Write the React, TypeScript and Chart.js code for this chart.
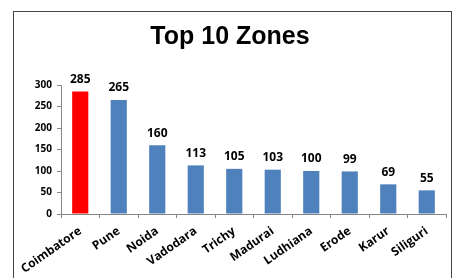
import React, { useEffect, useRef } from "react";
import { Chart, registerables } from "chart.js";

Chart.register(...registerables);

const categories = ["Coimbatore", "Pune", "Noida", "Vadodara", "Trichy", "Madurai", "Ludhiana", "Erode", "Karur", "Siliguri"];
const values = [285, 265, 160, 113, 105, 103, 100, 99, 69, 55];
const barColors = ["#FF0000", "#4F81BD", "#4F81BD", "#4F81BD", "#4F81BD", "#4F81BD", "#4F81BD", "#4F81BD", "#4F81BD", "#4F81BD"];
const yTicks = [0, 50, 100, 150, 200, 250, 300];

const labelFont = "'Open Sans', 'DejaVu Sans', sans-serif";

const valueLabels = {
  id: "valueLabels",
  afterDatasetsDraw(chart: any) {
    const ctx = chart.ctx;
    const meta = chart.getDatasetMeta(0);
    ctx.save();
    ctx.font = `bold 12px ${labelFont}`;
    ctx.fillStyle = "#000";
    ctx.textAlign = "center";
    ctx.textBaseline = "bottom";
    meta.data.forEach((el: any, i: number) => {
      ctx.fillText(String(values[i]), el.x, el.y - 6);
    });
    ctx.restore();
  },
};

export default function App() {
  const ref = useRef<HTMLCanvasElement>(null);
  useEffect(() => {
    if (!ref.current) return;
    const chart = new Chart(ref.current, {
      type: "bar",
      data: {
        labels: categories,
        datasets: [
          {
            data: values,
            backgroundColor: barColors,
            barPercentage: 0.42,
            categoryPercentage: 1,
          },
        ],
      },
      options: {
        animation: false,
        responsive: false,
        maintainAspectRatio: false,
        layout: { padding: { left: 0, right: 5, top: 0, bottom: 0 } },
        plugins: {
          legend: { display: false },
          tooltip: { enabled: false },
          title: {
            display: true,
            text: "Top 10 Zones",
            color: "#000",
            font: { family: "'Liberation Sans', Arial, sans-serif", size: 25, weight: "bold", lineHeight: 1.2 },
            padding: { top: 10, bottom: 33 },
          },
        },
        scales: {
          x: {
            grid: { drawOnChartArea: false, drawTicks: true, tickLength: 4, color: "#868686", offset: true },
            border: { color: "#868686" },
            ticks: {
              color: "#000",
              font: { family: labelFont, size: 12, weight: "bold" },
              minRotation: 35,
              maxRotation: 35,
              padding: 6,
              autoSkip: false,
            },
            afterFit: (s: any) => {
              s.height = 64;
              s.paddingLeft = 0;
              s.paddingRight = 0;
            },
          },
          y: {
            min: 0,
            max: 300,
            afterBuildTicks: (s: any) => {
              s.ticks = yTicks.map((v) => ({ value: v }));
            },
            grid: { drawOnChartArea: false, drawTicks: true, tickLength: 4, color: "#868686" },
            border: { color: "#868686" },
            ticks: {
              color: "#000",
              font: { family: labelFont, size: 10, weight: "bold" },
              padding: 5,
            },
            afterFit: (s: any) => {
              s.width = 47;
              s.paddingTop = 0;
              s.paddingBottom = 0;
            },
          },
        },
      },
      plugins: [valueLabels],
    });
    return () => chart.destroy();
  }, []);
  return (
    <div
      style={{
        position: "absolute",
        left: 13,
        top: 11,
        width: 437,
        height: 266,
        border: "1px solid #444",
        background: "#fff",
      }}
    >
      <canvas ref={ref} width={437} height={266} style={{ display: "block", width: 437, height: 266 }} />
    </div>
  );
}
